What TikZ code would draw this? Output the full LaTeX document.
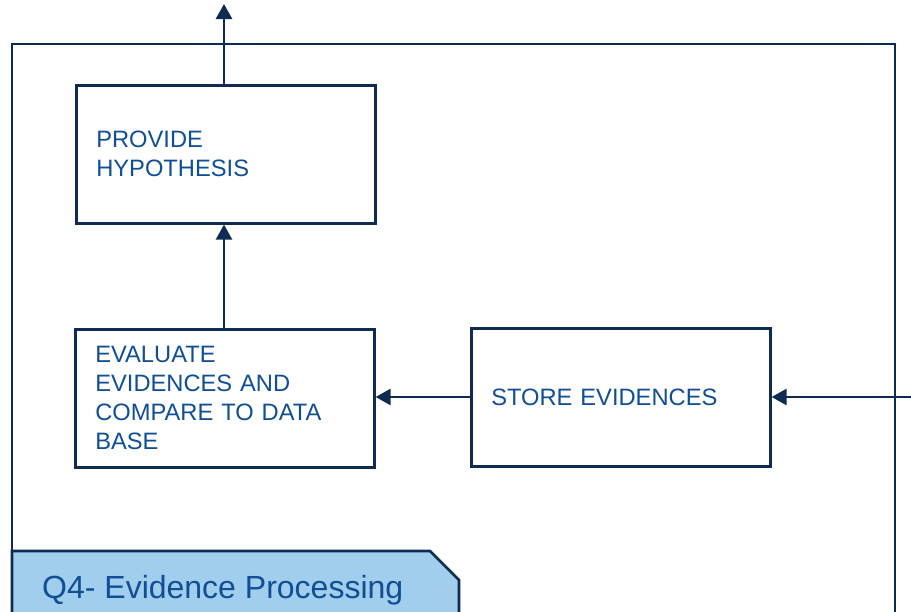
\documentclass[tikz,border=0pt]{standalone}
\usepackage{fontspec}
\setmainfont{Liberation Sans}
\usetikzlibrary{arrows.meta}
\definecolor{navy}{RGB}{14,44,82}
\definecolor{inkblue}{RGB}{16,78,150}
\definecolor{tabblue}{RGB}{160,206,236}
\tikzset{
  line/.style={draw=navy, line width=2.6pt},
  flow/.style={line, -{Triangle[length=15pt,width=16pt]}},
  stepbox/.style={line, fill=white, minimum width=299pt, minimum height=138pt,
    inner xsep=20pt, text width=259pt, align=left, text=inkblue,
    font=\fontsize{23.7}{29}\selectfont, anchor=north west},
}
\begin{document}
\begin{tikzpicture}[x=1pt,y=-1pt]
\useasboundingbox (0,0) rectangle (911,611);
\begin{scope}
\clip (0,0) rectangle (911,611);
% outer process frame
\draw[line] (12,640) -- (12,44) -- (895,44) -- (895,640);
% title tab with cut corner
\draw[line, fill=tabblue] (12,640) -- (12,551) -- (430,551) -- (459,580) -- (459,640);
\end{scope}
\node[anchor=base west, text=inkblue, font=\fontsize{32}{36}\selectfont, inner sep=0pt] (title) at (42,598) {Q4- Evidence Processing};

\node[stepbox] (hyp) at (75,84) {PROVIDE\\HYPOTHESIS};
\node[stepbox] (eval) at (74,328) {EVALUATE\\EVIDENCES AND\\COMPARE TO DATA\\BASE};
\node[stepbox] (store) at (470,327) {STORE EVIDENCES};

\coordinate (out) at (224,4);
\coordinate (in) at (913,397);

\draw[flow] (hyp.north -| out) -- (out);
\draw[flow] (eval.north -| out) -- (hyp.south -| out);
\draw[flow] (store.west |- in) -- (eval.east |- in);
\draw[flow] (in) -- (store.east |- in);
\end{tikzpicture}
\end{document}
